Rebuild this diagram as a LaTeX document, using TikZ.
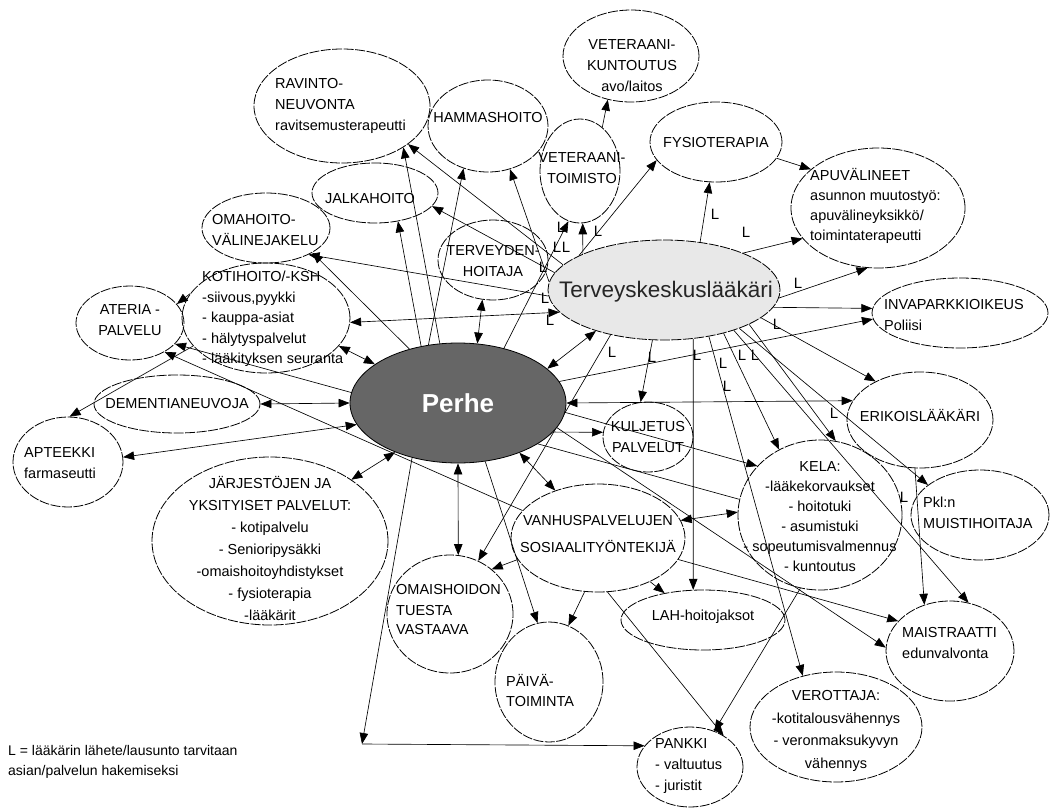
\documentclass[tikz,border=0pt]{standalone}
\usepackage{fontspec}
\setmainfont{Liberation Sans}
\usetikzlibrary{shapes.geometric,arrows.meta}
\pgfdeclarelayer{bg}
\pgfsetlayers{bg,main}
\newcommand\mkell[5]{\node[ell, minimum width={2*#4pt}, minimum height={2*#5pt}] (#1) at (#2,#3) {};}
\begin{document}
\begin{tikzpicture}[x=1pt,y=-1pt,
  ell/.style={draw, ellipse, inner sep=0pt, line width=0.8pt, dash pattern=on 10pt off 1.5pt},
  txt/.style={font=\fontsize{14.5}{21}\selectfont, align=center, inner sep=0pt},
  ltxt/.style={txt, align=left, anchor=west},
  conn/.style={line width=0.65pt},
  lab/.style={font=\fontsize{15}{15}\selectfont, inner sep=0pt},
  >={Triangle[length=11pt,width=8.5pt]}]
\useasboundingbox (0,0) rectangle (1050,809);

% ellipses
\mkell{rav}{342}{106}{88}{57}
\mkell{ham}{488}{126}{60}{46}
\mkell{vkun}{631}{56}{68}{46}
\mkell{vtoim}{580}{171}{40}{52}
\mkell{fys}{716}{142}{66}{40}
\mkell{apu}{878}{208}{87}{60}
\mkell{jalka}{375}{193}{63}{30}
\mkell{omah}{266}{228}{64}{35}
\mkell{terv}{493}{260}{55}{40}
\node[ell, fill=black!9, minimum width=232pt, minimum height=100pt] (tk) at (664,290) {};
\mkell{koti}{266}{318}{84}{55}
\mkell{ateria}{130}{323}{54}{37}
\mkell{dem}{177}{404}{83}{29}
\mkell{apt}{68}{462}{55}{45}
\node[ell, fill=black!60, solid, minimum width=216pt, minimum height=120pt] (perhe) at (458,403) {};
\mkell{jarj}{270}{541}{118}{84}
\mkell{kulj}{648}{437}{45}{35}
\mkell{inva}{960}{313}{88}{35}
\mkell{eri}{920}{420}{73}{48}
\mkell{kela}{820}{515}{82}{75}
\mkell{muisti}{980}{515}{69}{45}
\mkell{vanhus}{598}{538}{87}{54}
\mkell{omais}{450}{614}{63}{59}
\mkell{paiva}{549}{682}{54}{60}
\mkell{lah}{703}{620}{82}{30}
\mkell{mais}{950}{651}{64}{50}
\mkell{vero}{836}{727}{86}{55}
\mkell{pankki}{690}{767}{53}{40}
\coordinate (corner) at (362,744);

% texts
\node[ltxt] (t-rav) at (275,106) {RAVINTO-\\NEUVONTA\\ravitsemusterapeutti};
\node[txt] (t-ham) at (488,118) {HAMMASHOITO};
\node[txt] (t-vkun) at (632,66) {VETERAANI-\\KUNTOUTUS\\avo/laitos};
\node[txt] (t-vtoim) at (582,168) {VETERAANI-\\TOIMISTO};
\node[txt] (t-fys) at (716,143) {FYSIOTERAPIA};
\node[ltxt,font=\fontsize{14.5}{20}\selectfont] (t-apu) at (810,206) {APUVÄLINEET\\asunnon muutostyö:\\apuvälineyksikkö/\\toimintaterapeutti};
\node[txt] (t-jalka) at (370,199) {JALKAHOITO};
\node[ltxt] (t-omah) at (212,230) {OMAHOITO-\\VÄLINEJAKELU};
\node[txt] (t-terv) at (493,261) {TERVEYDEN-\\HOITAJA};
\node[txt,font=\fontsize{22.5}{24}\selectfont, text=black!85] (t-tk) at (666,292) {Terveyskeskuslääkäri};
\node[ltxt,font=\fontsize{14.5}{20.5}\selectfont] (t-koti) at (202,319) {KOTIHOITO/-KSH\\-siivous,pyykki\\- kauppa-asiat\\- hälytyspalvelut\\- lääkityksen seuranta};
\node[txt] (t-ateria) at (130,320) {ATERIA -\\PALVELU};
\node[txt] (t-dem) at (177,404) {DEMENTIANEUVOJA};
\node[ltxt] (t-apt) at (24,463) {APTEEKKI\\farmaseutti};
\node[font=\fontsize{26}{26}\selectfont\bfseries, text=white, inner sep=0pt] (t-perhe) at (458,403) {Perhe};
\node[txt,font=\fontsize{14.5}{22}\selectfont] (t-jarj) at (270,548) {JÄRJESTÖJEN JA\\YKSITYISET PALVELUT:\\- kotipalvelu\\- Senioripysäkki\\-omaishoitoyhdistykset\\- fysioterapia\\-lääkärit};
\node[txt] (t-kulj) at (648,437) {KULJETUS\\PALVELUT};
\node[ltxt] (t-inva) at (884,315) {INVAPARKKIOIKEUS\\Poliisi};
\node[txt] (t-eri) at (920,415) {ERIKOISLÄÄKÄRI};
\node[txt,font=\fontsize{14.5}{20}\selectfont] (t-kela) at (820,517) {KELA:\\-lääkekorvaukset\\- hoitotuki\\- asumistuki\\- sopeutumisvalmennus\\- kuntoutus};
\node[ltxt] (t-muisti) at (923,513) {Pkl:n\\MUISTIHOITAJA};
\node[txt,font=\fontsize{14.5}{28}\selectfont] (t-vanhus) at (598,534) {VANHUSPALVELUJEN\\SOSIAALITYÖNTEKIJÄ};
\node[ltxt,font=\fontsize{14.5}{20}\selectfont] (t-omais) at (396,610) {OMAISHOIDON\\TUESTA\\VASTAAVA};
\node[ltxt,font=\fontsize{14.5}{20}\selectfont] (t-paiva) at (506,690) {PÄIVÄ-\\TOIMINTA};
\node[txt] (t-lah) at (703,617) {LAH-hoitojaksot};
\node[ltxt] (t-mais) at (902,643) {MAISTRAATTI\\edunvalvonta};
\node[txt,font=\fontsize{14.5}{22.5}\selectfont] (t-vero) at (836,731) {VEROTTAJA:\\-kotitalousvähennys\\- veronmaksukyvyn\\vähennys};
\node[ltxt] (t-pankki) at (655,766) {PANKKI\\- valtuutus\\- juristit};
\node[ltxt,font=\fontsize{14}{20}\selectfont] (legend) at (8,762) {L = lääkärin lähete/lausunto tarvitaan\\asian/palvelun hakemiseksi};

% L labels
\foreach \n/\p in {1/{(561,227)},2/{(598,231)},3/{(557,247)},4/{(566,247)},5/{(543,267)},6/{(545,298)},7/{(550,320)},8/{(612,352)},9/{(652,357)},10/{(697,355)},11/{(723,363)},12/{(742,355)},13/{(755,355)},14/{(777,324)},15/{(727,386)},16/{(715,214)},17/{(746,232)},18/{(798,283)},19/{(834,413)},20/{(904,497)}}
  \node[lab] (L\n) at \p {L};

% connectors
\begin{pgfonlayer}{bg}
\begin{scope}[conn]
\draw[<->] (koti.-21) -- (perhe.155);
\draw[<->] (dem.0) -- (perhe.180);
\draw[<->] (apt.5) -- (perhe.192);
\draw[<->] (jarj.37) -- (perhe.218);
\draw[<->] (terv.255) -- (perhe.72);
\draw[<->] (tk.211) -- (perhe.21);
\draw[->] (perhe.-17) -- (kulj.174);
\draw[<->] (perhe.-39) -- (vanhus.132);
\draw[<->] (perhe.270) -- (omais.82);
\draw[->] (perhe.-65) -- (paiva.101);
\draw[->] (perhe.230) -- (corner);
\draw[->] (corner) -- (pankki.155);
\draw[<->] (koti.-3) -- (tk.192);
\draw[->] (tk.183) -- (omah.-32);
\draw[->] (perhe.132) -- (omah.-28);
\draw[->] (tk.166) -- (rav.-30);
\draw[->] (perhe.107) -- (rav.-34);
\draw[->] (perhe.117) -- (ham.240);
\draw[->] (tk.176) -- (ham.-63);
\draw[->] (tk.171) -- (jalka.-13);
\draw[->] (perhe.123) -- (jalka.-51);
\draw[->] (perhe.50) -- (vtoim.257);
\draw[->] (tk.156) -- (vtoim.-87);
\draw[->] (vtoim.63) -- (vkun.242);
\draw[->] (tk.158) -- (fys.197);
\draw[->] (tk.53) -- (fys.261);
\draw[->] (fys.-15) -- (apu.150);
\draw[->] (tk.25) -- (apu.202);
\draw[->] (tk.-4) -- (apu.260);
\draw[->] (tk.-9) -- (inva.177);
\draw[->] (perhe.12) -- (inva.184);
\draw[->] (tk.257) -- (kulj.102);
\draw[->] (tk.220) -- (omais.62);
\draw[->] (vanhus.195) -- (omais.47);
\draw[->] (vanhus.256) -- (paiva.71);
\draw[->] (vanhus.-40) -- (lah.145);
\draw[->] (tk.-59) -- (lah.108);
\draw[->] (tk.-46) -- (vero.123);
\draw[->] (tk.-36) -- (kela.122);
\draw[->] (tk.-16) -- (eri.139);
\draw[->] (tk.-27) -- (muisti.150);
\draw[->] (tk.-30) -- (mais.69);
\draw[->] (tk.-22) -- (kela.78);
\draw[->] (eri.264) -- (mais.119);
\draw[<->] (perhe.0) -- (eri.164);
\draw[->] (perhe.-5) -- (kela.142);
\draw[<->] (vanhus.12) -- (kela.178);
\draw[->] (vanhus.-15) -- (mais.150);
\draw[->] (perhe.-14) -- (mais.177);
\draw[->] (vanhus.-80) -- (pankki.43);
\draw[->] (kela.255) -- (pankki.56);
\draw[->] (koti.162) -- (ateria.22);
\draw[->] (koti.201) -- (apt.88);
\draw[->] (kela.169) -- (ateria.-25);
\draw[->] (vanhus.160) -- (ateria.-40);
\end{scope}
\end{pgfonlayer}
\end{tikzpicture}
\end{document}
